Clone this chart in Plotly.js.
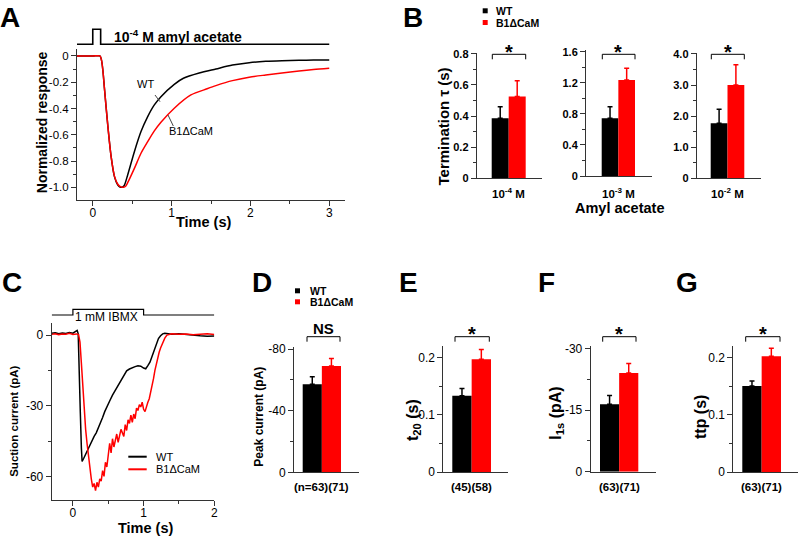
<!DOCTYPE html>
<html><head><meta charset="utf-8">
<script src="https://cdn.plot.ly/plotly-3.0.1.min.js"></script>
<style>html,body{margin:0;padding:0;background:#fff}#chart{width:800px;height:538px}</style>
</head><body><div id="chart"></div>
<script>
// ---------------- DATA ----------------
const groupNames = ['WT', 'B1ΔCaM'];
// Panel A: normalized responses to 10^-4 M amyl acetate
const stimA_time = [-0.2, 0, 0, 0.1, 0.1, 3.0];
const stimA_level = [0, 0, 1, 1, 0, 0];
const tA_WT = [-0.2, 0.0, 0.09, 0.11, 0.13, 0.148, 0.19, 0.233, 0.275, 0.316, 0.345, 0.372, 0.40, 0.443, 0.528, 0.612, 0.697, 0.781, 0.865, 1.034, 1.15, 1.35, 1.562, 1.772, 1.984, 2.195, 2.4, 2.617, 2.8, 3.0];
const rA_WT = [0, 0, 0, -0.03, -0.12, -0.246, -0.525, -0.767, -0.919, -0.982, -0.998, -1.0, -0.985, -0.906, -0.729, -0.576, -0.462, -0.373, -0.31, -0.216, -0.17, -0.13, -0.099, -0.069, -0.051, -0.041, -0.036, -0.033, -0.031, -0.03];
const tA_KO = [-0.2, 0.0, 0.09, 0.11, 0.13, 0.148, 0.19, 0.233, 0.275, 0.316, 0.35, 0.39, 0.42, 0.443, 0.528, 0.612, 0.697, 0.781, 0.865, 1.034, 1.245, 1.45, 1.562, 1.772, 1.984, 2.195, 2.4, 2.617, 2.8, 3.0];
const rA_KO = [0, 0, 0, -0.03, -0.12, -0.246, -0.525, -0.767, -0.915, -0.975, -0.995, -1.0, -0.99, -0.965, -0.856, -0.741, -0.653, -0.571, -0.505, -0.398, -0.297, -0.25, -0.226, -0.188, -0.162, -0.145, -0.13, -0.114, -0.103, -0.094];

// Panel B: termination tau (s)
const concLabels = ['10<sup>-4</sup> M', '10<sup>-3</sup> M', '10<sup>-2</sup> M'];
const tauWT = [0.386, 0.743, 1.77];
const tauWTerr = [0.074, 0.149, 0.45];
const tauKO = [0.525, 1.236, 3.0];
const tauKOerr = [0.101, 0.15, 0.65];

// Panel C: suction currents to 1 mM IBMX
const stimC_time = [-0.3, 0, 0, 1, 1, 2];
const stimC_level = [0, 0, 1, 1, 0, 0];
const tC_WT = [-0.3,-0.25,-0.2,-0.15,-0.1,-0.05,0.0,0.03,0.06,0.075,0.09,0.105,0.12,0.13,0.15,0.18,0.21,0.24,0.27,0.30,0.33,0.36,0.39,0.42,0.45,0.48,0.52,0.56,0.60,0.64,0.68,0.72,0.76,0.80,0.84,0.88,0.92,0.96,1.00,1.03,1.06,1.09,1.12,1.15,1.18,1.21,1.24,1.27,1.30,1.4,1.5,1.6,1.7,1.8,1.9,2.0];
const iC_WT = [0.8,1.0,0.6,0.9,0.7,1.1,0.8,1.3,2.0,0.5,-12,-33,-48,-53.6,-52.5,-50.5,-49,-47,-45,-43,-41.5,-39.5,-37.3,-35,-32.5,-30.3,-28,-25.5,-23.5,-21.5,-19.5,-17,-15.2,-14.4,-13.8,-13.4,-13,-13.2,-14,-14.3,-13,-11.5,-9,-6.3,-3.5,-1.5,-0.3,0.5,0.8,0.4,0.6,0.2,0,-0.3,-0.5,-0.4];
const tC_KO = [-0.3,-0.25,-0.2,-0.15,-0.1,-0.05,0,0.05,0.08,0.1,0.12,0.14,0.16,0.18,0.2,0.22,0.24,0.26,0.28,0.3,0.32,0.34,0.36,0.38,0.40,0.42,0.44,0.46,0.48,0.50,0.52,0.54,0.56,0.58,0.60,0.62,0.64,0.66,0.68,0.70,0.72,0.74,0.76,0.78,0.80,0.82,0.84,0.86,0.88,0.90,0.92,0.94,0.96,0.98,1.00,1.02,1.04,1.06,1.08,1.10,1.12,1.14,1.16,1.18,1.20,1.22,1.24,1.26,1.28,1.30,1.33,1.36,1.4,1.5,1.6,1.7,1.8,1.9,2.0];
const iC_KO = [0.3,0.6,0.2,0.5,0.4,0.8,0.3,0.5,0.2,-3,-12,-22,-31,-40,-46,-52,-57,-61,-64.5,-63,-66,-62.5,-64.5,-61,-62,-57.5,-60,-54,-56,-49.5,-46,-50,-44,-47.5,-44.5,-42,-45.5,-42,-40,-41.5,-43,-38,-40.5,-36,-37.5,-34,-37,-33.5,-35.5,-31,-32,-29.5,-30.5,-28.5,-31.5,-32.5,-30,-28.5,-27,-24.5,-22,-18.5,-15,-12,-9.5,-7.3,-5.5,-3.8,-2.5,-1.3,0,0.4,0.6,0.3,0.5,0.1,0.4,0.6,0.2];

// Panels D-G: WT, B1ΔCaM
const peakCurrent = [-57.1, -68.9], peakCurrentErr = [4.9, 5.0];
const t20 = [0.133, 0.197], t20Err = [0.013, 0.017];
const i1s = [-16.5, -24.1], i1sErr = [2.1, 2.3];
const ttp = [0.150, 0.202], ttpErr = [0.009, 0.014];
const nLabels = ['(n=63)(71)', '(45)(58)', '(63)(71)', '(63)(71)'];

// ---------------- LAYOUT HELPERS ----------------
const W = 800, H = 538;
const FONT = '"Liberation Sans", Arial, Helvetica, sans-serif';
const COLORS = ['#000000', '#ff0000'];
const AX = '#333333';
const X = v => v / W, Y = v => 1 - v / H;
const domX = (a, b) => [X(a), X(b)];
const domY = (t, b) => [Y(b), Y(t)];
function barRange(axL, axR, barL, barR) { const u = (barR - barL) / 2; return [-0.5 - (barL - axL) / u, 1.5 + (axR - barR) / u]; }

const traces = [], shapes = [], annotations = [];
const layout = { width: W, height: H, margin: { l: 0, r: 0, t: 0, b: 0 }, paper_bgcolor: '#fff', plot_bgcolor: 'rgba(0,0,0,0)', showlegend: false, barmode: 'overlay', font: { family: FONT, color: '#000' } };

function axis(extra) {
  return Object.assign({ showgrid: false, zeroline: false, showline: true, linecolor: AX, linewidth: 1, ticks: 'outside', ticklen: 5, tickwidth: 1, tickcolor: AX, tickfont: { family: FONT, size: 12, color: '#000' }, fixedrange: true, tickmode: 'array' }, extra);
}
function minor(vals) { return { tickmode: 'array', tickvals: vals, ticks: 'outside', ticklen: 3, tickwidth: 1, tickcolor: AX, showgrid: false }; }
function txt(x, y, text, size, extra) {
  return Object.assign({ xref: 'paper', yref: 'paper', x: X(x), y: Y(y), text: text, showarrow: false, font: { family: FONT, size: size, color: '#000' }, xanchor: 'center', yanchor: 'middle' }, extra || {});
}
function bracket(x0, x1, yt, yb) {
  shapes.push({ type: 'path', xref: 'paper', yref: 'paper', path: `M ${X(x0)},${Y(yb)} L ${X(x0)},${Y(yt)} L ${X(x1)},${Y(yt)} L ${X(x1)},${Y(yb)}`, line: { color: '#000', width: 1 } });
}
function rect(x0, x1, y0, y1, color) {
  shapes.push({ type: 'rect', xref: 'paper', yref: 'paper', x0: X(x0), x1: X(x1), y0: Y(y1), y1: Y(y0), fillcolor: color, line: { width: 0 } });
}
function seg(x0, y0, x1, y1, color, w) {
  shapes.push({ type: 'line', xref: 'paper', yref: 'paper', x0: X(x0), y0: Y(y0), x1: X(x1), y1: Y(y1), line: { color: color, width: w } });
}
function barTrace(xa, ya, idx, val, err, color) {
  const e = val < 0 ? { type: 'data', symmetric: false, array: [0], arrayminus: [err] } : { type: 'data', symmetric: false, array: [err], arrayminus: [0] };
  Object.assign(e, { color: color, thickness: 1.5, width: 2.5, visible: true });
  return { type: 'bar', x: [idx], y: [val], width: [1], xaxis: xa, yaxis: ya, marker: { color: color, line: { width: 0 } }, error_y: e, hoverinfo: 'skip' };
}
function star(x, y) { annotations.push(txt(x, y + 5, '<b>*</b>', 20)); }

// ---------------- PANEL A ----------------
layout.xaxis = axis({ domain: domX(77, 345), range: [-0.2, 3.2], anchor: 'y', tickvals: [0, 1, 2, 3], ticktext: ['0', '1', '2', '3'], minor: minor([0.5, 1.5, 2.5]), tickfont: { family: FONT, size: 12 }, ticklabelstandoff: -3 });
layout.yaxis = axis({ domain: domY(49, 200), range: [-1.097, 0.053], anchor: 'x', tickvals: [0, -0.2, -0.4, -0.6, -0.8, -1.0], ticktext: ['0', '-0.2', '-0.4', '-0.6', '-0.8', '-1.0'], minor: minor([-0.1, -0.3, -0.5, -0.7, -0.9]), tickfont: { family: FONT, size: 11.5 } });
layout.yaxis2 = { domain: domY(25, 48), range: [-0.247, 1.287], anchor: 'x', visible: false, fixedrange: true };
traces.push({ type: 'scatter', mode: 'lines', x: stimA_time, y: stimA_level, xaxis: 'x', yaxis: 'y2', line: { color: '#000', width: 1.6 }, hoverinfo: 'skip' });
traces.push({ type: 'scatter', mode: 'lines', x: tA_WT, y: rA_WT, xaxis: 'x', yaxis: 'y', line: { color: COLORS[0], width: 1.5, shape: 'spline', smoothing: 0.8 }, name: groupNames[0] });
traces.push({ type: 'scatter', mode: 'lines', x: tA_KO, y: rA_KO, xaxis: 'x', yaxis: 'y', line: { color: COLORS[1], width: 1.5, shape: 'spline', smoothing: 0.8 }, name: groupNames[1] });
annotations.push(txt(112, 36, '<b>10<sup>-4</sup> M amyl acetate</b>', 14, { xanchor: 'left' }));
annotations.push(txt(145.7, 84, groupNames[0], 11));
annotations.push(txt(191, 131, groupNames[1], 11));
seg(155, 95, 160, 101.7, '#444', 1);
seg(168, 115, 173.3, 126, '#444', 1);
annotations.push(txt(41.7, 122.5, '<b>Normalized response</b>', 14, { textangle: -90 }));
annotations.push(txt(204, 222, '<b>Time (s)</b>', 14.5));

// ---------------- PANEL B ----------------
const bGeom = [
  { ax: [476.7, 541.7], bars: [491.7, 525.7], y: [52.7, 178.3], range: [0, 0.807], tv: [0, 0.2, 0.4, 0.6, 0.8], tt: ['0', '0.2', '0.4', '0.6', '0.8'], mv: [0.1, 0.3, 0.5, 0.7] },
  { ax: [586, 651.7], bars: [601.7, 635], y: [50, 176], range: [0, 1.622], tv: [0, 0.4, 0.8, 1.2, 1.6], tt: ['0', '0.4', '0.8', '1.2', '1.6'], mv: [0.2, 0.6, 1.0, 1.4] },
  { ax: [696.7, 761], bars: [710.7, 744.3], y: [52.7, 178.3], range: [0, 4.04], tv: [0, 1, 2, 3, 4], tt: ['0', '1.0', '2.0', '3.0', '4.0'], mv: [0.5, 1.5, 2.5, 3.5] }
];
bGeom.forEach((g, i) => {
  const n = i + 3, xa = 'x' + n, ya = 'y' + n;
  layout['xaxis' + n] = axis({ domain: domX(g.ax[0], g.ax[1]), range: barRange(g.ax[0], g.ax[1], g.bars[0], g.bars[1]), anchor: ya, ticks: '', showticklabels: false, tickvals: [] });
  layout['yaxis' + n] = axis({ domain: domY(g.y[0], g.y[1]), range: g.range, anchor: xa, tickvals: g.tv, ticktext: g.tt.map(s => '<b>' + s + '</b>'), minor: minor(g.mv), tickfont: { family: FONT, size: 11 } });
  traces.push(barTrace(xa, ya, 0, tauWT[i], tauWTerr[i], COLORS[0]));
  traces.push(barTrace(xa, ya, 1, tauKO[i], tauKOerr[i], COLORS[1]));
  annotations.push({ xref: xa, yref: 'paper', x: 0.5, y: Y(193.3), text: '<b>' + concLabels[i] + '</b>', showarrow: false, font: { family: FONT, size: 11.5, color: '#000' }, xanchor: 'center', yanchor: 'middle' });
  bracket(g.bars[0] + 0.6, g.bars[1], 54.3, 59.3);
  star((g.bars[0] + g.bars[1]) / 2, 46.5);
});
rect(482.7, 487.7, 8.3, 13.3, COLORS[0]);
rect(482.7, 487.7, 20, 25, COLORS[1]);
annotations.push(txt(494, 11, '<b>' + groupNames[0] + '</b>', 10.5, { xanchor: 'left' }));
annotations.push(txt(494, 22.7, '<b>' + groupNames[1] + '</b>', 10.5, { xanchor: 'left' }));
annotations.push(txt(443, 126.5, '<b>Termination τ (s)</b>', 15, { textangle: -90 }));
annotations.push(txt(619, 208.3, '<b>Amyl acetate</b>', 14.5));

// ---------------- PANEL C ----------------
layout.xaxis6 = axis({ domain: domX(51.7, 214.3), range: [-0.3, 2.0], anchor: 'y6', tickvals: [0, 1, 2], ticktext: ['0', '1', '2'], minor: minor([0.5, 1.5]), ticklabelstandoff: -3 });
layout.yaxis6 = axis({ domain: domY(323.3, 500), range: [-70, 5], anchor: 'x6', tickvals: [0, -30, -60], ticktext: ['0', '-30', '-60'], minor: minor([-15, -45]) });
layout.yaxis7 = { domain: domY(305, 320), range: [-0.877, 1.754], anchor: 'x6', visible: false, fixedrange: true };
traces.push({ type: 'scatter', mode: 'lines', x: stimC_time, y: stimC_level, xaxis: 'x6', yaxis: 'y7', line: { color: '#000', width: 1.2 }, hoverinfo: 'skip' });
traces.push({ type: 'scatter', mode: 'lines', x: tC_WT, y: iC_WT, xaxis: 'x6', yaxis: 'y6', line: { color: COLORS[0], width: 1.5 }, name: groupNames[0] });
traces.push({ type: 'scatter', mode: 'lines', x: tC_KO, y: iC_KO, xaxis: 'x6', yaxis: 'y6', line: { color: COLORS[1], width: 1.5 }, name: groupNames[1] });
annotations.push(txt(106.7, 317, '1 mM IBMX', 12));
seg(128.3, 456.7, 146.7, 456.7, COLORS[0], 2);
seg(128.3, 469.3, 146.7, 469.3, COLORS[1], 2);
annotations.push(txt(154, 456.7, groupNames[0], 11, { xanchor: 'left' }));
annotations.push(txt(154, 469.3, groupNames[1], 11, { xanchor: 'left' }));
annotations.push(txt(13.3, 421.5, '<b>Suction current (pA)</b>', 11.5, { textangle: -90 }));
annotations.push(txt(145.5, 527.5, '<b>Time (s)</b>', 14.5));

// ---------------- PANELS D-G ----------------
const dg = [
  { vals: peakCurrent, errs: peakCurrentErr, ax: [294, 359.3], bars: [302.7, 341], y: [346.7, 472.3], range: [0, -81.5], tv: [0, -40, -80], tt: ['0', '-40', '-80'], mv: [-20, -60], title: '<b>Peak current (pA)</b>', tpos: [259, 416.7], tsize: 12, sig: 'NS', br: [307, 340] },
  { vals: t20, errs: t20Err, ax: [443.3, 508.3], bars: [452.3, 491], y: [346, 472], range: [0, 0.22], tv: [0, 0.1, 0.2], tt: ['0', '0.1', '0.2'], mv: [0.05, 0.15], title: '<b>t<sub>20</sub> (s)</b>', tpos: [413, 420], tsize: 16, sig: '*', br: [455, 489.3] },
  { vals: i1s, errs: i1sErr, ax: [590.7, 656], bars: [600, 638.3], y: [346, 471.7], range: [0, -30.7], tv: [0, -15, -30], tt: ['0', '-15', '-30'], mv: [-7.5, -22.5], title: '<b>I<sub>1s</sub> (pA)</b>', tpos: [555.7, 413], tsize: 16, sig: '*', br: [602.7, 636] },
  { vals: ttp, errs: ttpErr, ax: [733.3, 798], bars: [742.3, 781], y: [346, 472], range: [0, 0.22], tv: [0, 0.1, 0.2], tt: ['0', '0.1', '0.2'], mv: [0.05, 0.15], title: '<b>ttp (s)</b>', tpos: [700, 417], tsize: 16, sig: '*', br: [745.7, 780] }
];
dg.forEach((g, i) => {
  const n = i + 8, xa = 'x' + n, ya = 'y' + n;
  layout['xaxis' + n] = axis({ domain: domX(g.ax[0], g.ax[1]), range: barRange(g.ax[0], g.ax[1], g.bars[0], g.bars[1]), anchor: ya, ticks: '', showticklabels: false, tickvals: [] });
  layout['yaxis' + n] = axis({ domain: domY(g.y[0], g.y[1]), range: g.range, anchor: xa, tickvals: g.tv, ticktext: g.tt, minor: minor(g.mv) });
  traces.push(barTrace(xa, ya, 0, g.vals[0], g.errs[0], COLORS[0]));
  traces.push(barTrace(xa, ya, 1, g.vals[1], g.errs[1], COLORS[1]));
  annotations.push({ xref: xa, yref: 'paper', x: 0.5, y: Y(486.7), text: '<b>' + nLabels[i] + '</b>', showarrow: false, font: { family: FONT, size: 11.5, color: '#000' }, xanchor: 'center', yanchor: 'middle' });
  annotations.push(txt(g.tpos[0], g.tpos[1], g.title, g.tsize, { textangle: -90 }));
  bracket(g.br[0], g.br[1], 336.7, 341.7);
  const cx = (g.br[0] + g.br[1]) / 2;
  if (g.sig === '*') star(cx, 329.3); else annotations.push(txt(cx, 328, '<b>' + g.sig + '</b>', 15));
});
rect(295, 300, 288.3, 293.3, COLORS[0]);
rect(295, 300, 299.3, 304.3, COLORS[1]);
annotations.push(txt(308, 290.7, '<b>' + groupNames[0] + '</b>', 10.5, { xanchor: 'left' }));
annotations.push(txt(308, 301.7, '<b>' + groupNames[1] + '</b>', 10.5, { xanchor: 'left' }));

// Panel letters
[['A', 10, 17], ['B', 412.5, 17], ['C', 12.3, 282], ['D', 261.7, 282], ['E', 408.3, 282], ['F', 546, 282], ['G', 686.7, 282]].forEach(p => annotations.push(txt(p[1], p[2], '<b>' + p[0] + '</b>', 28)));

layout.shapes = shapes;
layout.annotations = annotations;
Plotly.newPlot('chart', traces, layout, { displayModeBar: false, staticPlot: true });
</script></body></html>
